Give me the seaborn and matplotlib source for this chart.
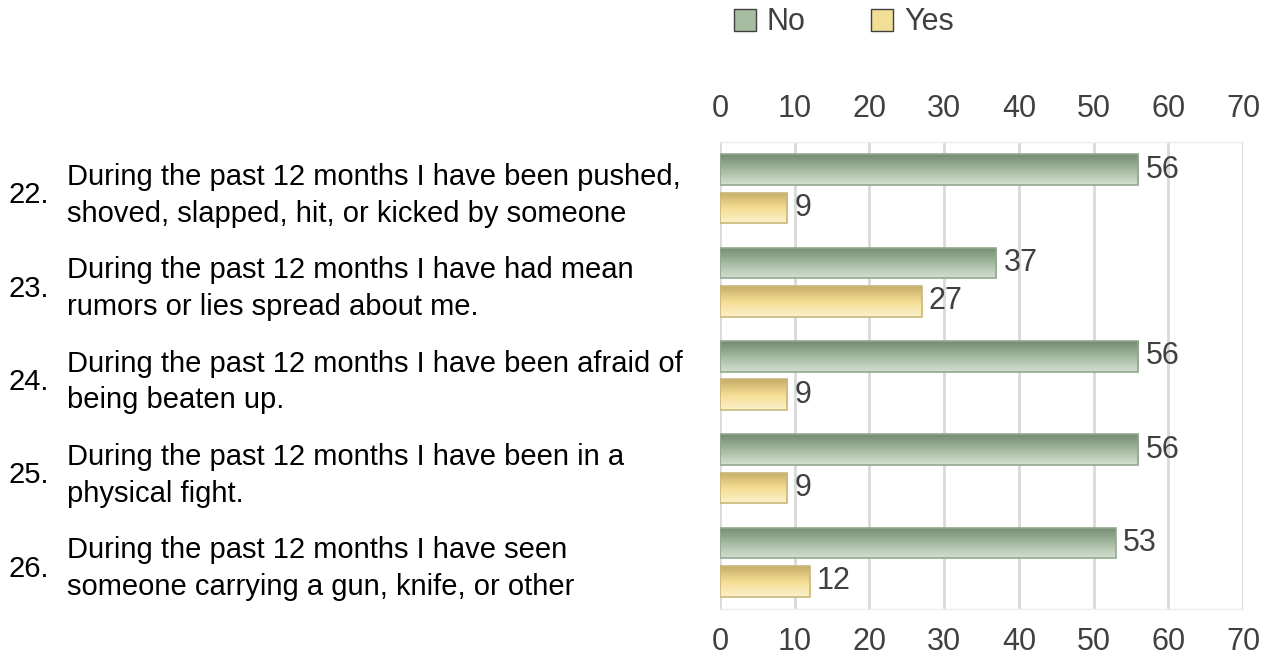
import numpy as np
import pandas as pd
import matplotlib.pyplot as plt
import matplotlib.transforms as mtransforms
from matplotlib.colors import LinearSegmentedColormap, to_rgb
from matplotlib.patches import Patch
import seaborn as sns

items = ["22.", "23.", "24.", "25.", "26."]
questions = [
    "During the past 12 months I have been pushed,\nshoved, slapped, hit, or kicked by someone",
    "During the past 12 months I have had mean\nrumors or lies spread about me.",
    "During the past 12 months I have been afraid of\nbeing beaten up.",
    "During the past 12 months I have been in a\nphysical fight.",
    "During the past 12 months I have seen\nsomeone carrying a gun, knife, or other",
]
no_counts = [56, 37, 56, 56, 53]
yes_counts = [9, 27, 9, 9, 12]
answers = ["No", "Yes"]
xticks = [0, 10, 20, 30, 40, 50, 60, 70]

df = pd.DataFrame({
    "item": items * 2,
    "count": no_counts + yes_counts,
    "answer": ["No"] * len(items) + ["Yes"] * len(items),
})

sns.set_style("white")
plt.rcParams["font.family"] = ["Liberation Sans", "DejaVu Sans"]

fig = plt.figure(figsize=(12.69, 6.61), dpi=100)
ax = fig.add_axes([0.5674, 0.0787, 0.9795 - 0.5674, 0.7852 - 0.0787])

sns.barplot(data=df, y="item", x="count", hue="answer", orient="h",
            order=items, hue_order=answers, width=0.82, gap=0.2,
            palette={"No": "#a6bda2", "Yes": "#f3de96"}, legend=False, ax=ax)

# gradient fills clipped to the bars
grads = {
    "No": ["#728b6f", "#a3b99f", "#d3dfcf"],
    "Yes": ["#c6ad68", "#f4dc92", "#fcf1cb"],
    }
edges = {"No": "#93a88f", "Yes": "#cbb77c"}
xlim = (0, 70)
ylim = ax.get_ylim()
for cont, ans in zip(ax.containers, answers):
    cmap = LinearSegmentedColormap.from_list(ans, [to_rgb(c) for c in grads[ans]])
    grad = np.linspace(0, 1, 64).reshape(-1, 1)
    for p in cont.patches:
        x0, y0, w, h = p.get_x(), p.get_y(), p.get_width(), p.get_height()
        p.set_facecolor("none")
        p.set_edgecolor(edges[ans])
        p.set_linewidth(1.2)
        p.set_zorder(3)
        im = ax.imshow(grad, cmap=cmap, aspect="auto", origin="upper",
                       extent=(x0, x0 + w, y0 + h, y0), zorder=2)
        im.set_clip_path(p)
    ax.bar_label(cont, padding=5, fontsize=22, color="#404040")

ax.set_xlim(xlim)
ax.set_ylim(ylim)
ax.set_xticks(xticks)
ax.grid(axis="x", color="#d9d9d9", linewidth=2)
ax.set_axisbelow(True)
ax.tick_params(axis="x", labeltop=True, labelbottom=True, length=0,
               labelsize=22, labelcolor="#404040", pad=13)
ax.set_yticks([])
ax.set_xlabel("")
ax.set_ylabel("")
for s in ["left", "right"]:
    ax.spines[s].set_visible(False)
for s in ["top", "bottom"]:
    ax.spines[s].set_color("#eeeeee")
    ax.spines[s].set_linewidth(1)

# category labels
trans = mtransforms.blended_transform_factory(fig.transFigure, ax.transData)
for i, (num, q) in enumerate(zip(items, questions)):
    ax.text(8 / 1269, i + 0.07, num, transform=trans, ha="left", va="center",
            fontsize=21, color="black")
    ax.text(67 / 1269, i + 0.07, q, transform=trans, ha="left", va="center",
            fontsize=21, color="black", linespacing=1.4)

handles = [Patch(facecolor="#a6bda2", edgecolor="#404040", linewidth=1),
           Patch(facecolor="#f3de96", edgecolor="#404040", linewidth=1)]
fig.legend(handles, answers, loc="center", bbox_to_anchor=(0.665, 0.966),
           ncol=2, frameon=False, fontsize=22, handlelength=0.72, handleheight=0.72,
           handletextpad=0.36, columnspacing=2.15, labelcolor="#404040")

fig.savefig("out.png", dpi=100)
